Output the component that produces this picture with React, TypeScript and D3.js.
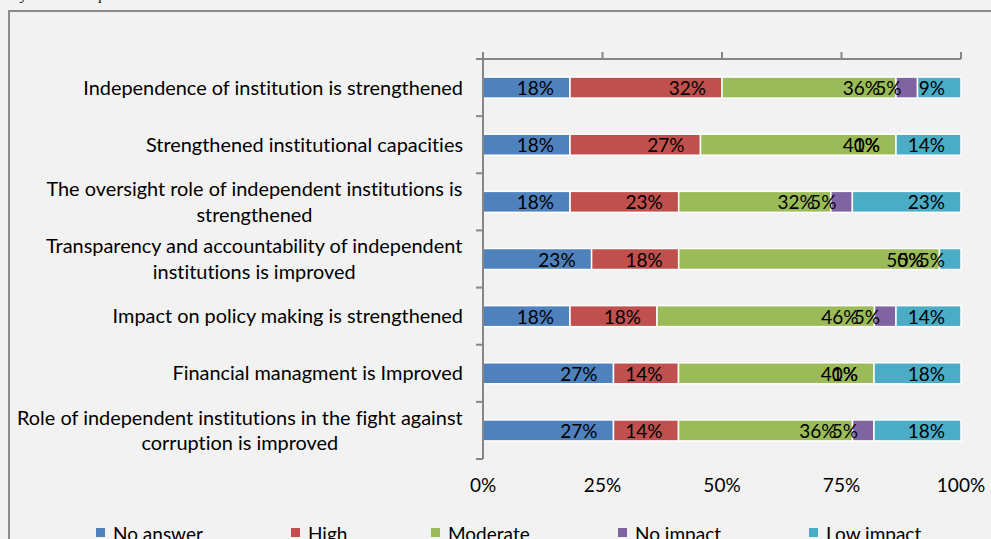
import React from "react";
import * as d3 from "d3";

const categories = [
  "Independence of institution is strengthened",
  "Strengthened institutional capacities",
  "The oversight role of independent institutions is\nstrengthened",
  "Transparency and accountability of independent\ninstitutions is improved",
  "Impact on policy making is strengthened",
  "Financial managment is Improved",
  "Role of independent institutions in the fight against\ncorruption is improved",
];

const seriesNames = ["No answer", "High", "Moderate", "No impact", "Low impact"];
const noAnswer = [18.2, 18.2, 18.2, 22.7, 18.2, 27.3, 27.3];
const high = [31.8, 27.3, 22.7, 18.2, 18.2, 13.6, 13.6];
const moderate = [36.4, 40.9, 31.8, 54.5, 45.5, 40.9, 36.4];
const noImpact = [4.5, 0, 4.5, 0, 4.5, 0, 4.5];
const lowImpact = [9.1, 13.6, 22.7, 4.5, 13.6, 18.2, 18.2];
const colors = ["#4F81BD", "#C0504D", "#9BBB59", "#8064A2", "#4BACC6"];
const xTicks = [0, 0.25, 0.5, 0.75, 1];

const W = 991;
const H = 539;
const FONT = "Lato, 'Open Sans', sans-serif";
const FS = 19;
const CAT_FS = 19.9;

let ctx: CanvasRenderingContext2D | null = null;
function measure(t: string) {
  if (!ctx) ctx = document.createElement("canvas").getContext("2d");
  if (!ctx) return t.length * 9;
  ctx.font = `${CAT_FS}px ${FONT}`;
  return ctx.measureText(t).width;
}

export default function App() {
  const values = [noAnswer, high, moderate, noImpact, lowImpact];
  const rows = categories.map((c, i) => {
    const r: any = { cat: c };
    seriesNames.forEach((s, j) => (r[s] = values[j][i]));
    return r;
  });
  const stack = d3.stack().keys(seriesNames).offset(d3.stackOffsetExpand);
  const layers = stack(rows);

  const x = d3.scaleLinear().domain([0, 1]).range([483, 961]);
  const pad = 0.6325;
  const y = d3
    .scaleBand<string>()
    .domain(categories)
    .range([59, 459])
    .paddingInner(pad)
    .paddingOuter(pad / 2);
  const step = y.step();
  const axisColor = "#868686";

  const legendX = [96, 291, 431, 618, 809];

  return (
    <svg
      width={W}
      height={H}
      style={{ position: "absolute", left: 0, top: 0, display: "block", fontVariantLigatures: "none" }}
      fontFamily={FONT}
    >
      <rect x={0} y={0} width={W} height={H} fill="#f2f2f2" />
      <text
        x={5}
        y={0}
        fontFamily="'Liberation Serif', 'Times New Roman', serif"
        fontStyle="italic"
        fontSize={14.5}
        fill="#000"
      >
        Key areas on impact
      </text>
      {/* outer frame */}
      <line x1={8} x2={W} y1={11} y2={11} stroke="#8c8c8c" strokeWidth={2} />
      <line x1={9} x2={9} y1={10} y2={H} stroke="#8c8c8c" strokeWidth={2} />

      {/* bars */}
      {layers.map((layer, j) => (
        <g key={j}>
          {layer.map((d, i) => (
            <rect
              key={i}
              x={x(d[0])}
              y={y(categories[i])}
              width={Math.max(0, x(d[1]) - x(d[0]))}
              height={y.bandwidth()}
              fill={colors[j]}
              stroke="#ffffff"
              strokeWidth={1.5}
            />
          ))}
        </g>
      ))}
      {/* data labels */}
      {layers.map((layer, j) => (
        <g key={"l" + j}>
          {layer.map((d, i) => (
            <text
              key={i}
              x={x(d[1]) - 16}
              y={(y(categories[i]) as number) + y.bandwidth() / 2 + 7.5}
              textAnchor="end"
              fontSize={FS}
              fill="#000"
            >
              {Math.round(values[j][i])}%
            </text>
          ))}
        </g>
      ))}

      {/* axes */}
      <line x1={x(0)} x2={x(1)} y1={59} y2={59} stroke={axisColor} strokeWidth={2} />
      {xTicks.map((t) => (
        <line key={t} x1={x(t)} x2={x(t)} y1={52} y2={59} stroke={axisColor} strokeWidth={2} />
      ))}
      <line x1={x(0)} x2={x(0)} y1={58} y2={459} stroke={axisColor} strokeWidth={2} />
      {d3.range(categories.length + 1).map((k) => (
        <line
          key={k}
          x1={476}
          x2={x(0)}
          y1={59 + k * step}
          y2={59 + k * step}
          stroke={axisColor}
          strokeWidth={2}
        />
      ))}
      {xTicks.map((t) => (
        <text key={t} x={x(t)} y={492} textAnchor="middle" fontSize={FS} fill="#000">
          {d3.format(".0%")(t)}
        </text>
      ))}

      {/* category labels */}
      {categories.map((c, i) => {
        const lines = c.split("\n");
        const maxW = Math.max(...lines.map(measure));
        const cx = 463 - maxW / 2;
        const cy = (y(c) as number) + y.bandwidth() / 2;
        const lh = 25.3;
        return lines.map((ln, k) => (
          <text
            key={i + "-" + k}
            x={lines.length > 1 ? cx : 463}
            y={cy + 7 + (k - (lines.length - 1) / 2) * lh}
            textAnchor={lines.length > 1 ? "middle" : "end"}
            fontSize={CAT_FS}
            fill="#000"
          >
            {ln}
          </text>
        ));
      })}

      {/* legend */}
      {seriesNames.map((s, j) => (
        <g key={s}>
          <rect x={legendX[j]} y={528} width={9} height={9} fill={colors[j]} />
          <text x={legendX[j] + 17} y={541} fontSize={FS} fill="#000">
            {s}
          </text>
        </g>
      ))}
    </svg>
  );
}
